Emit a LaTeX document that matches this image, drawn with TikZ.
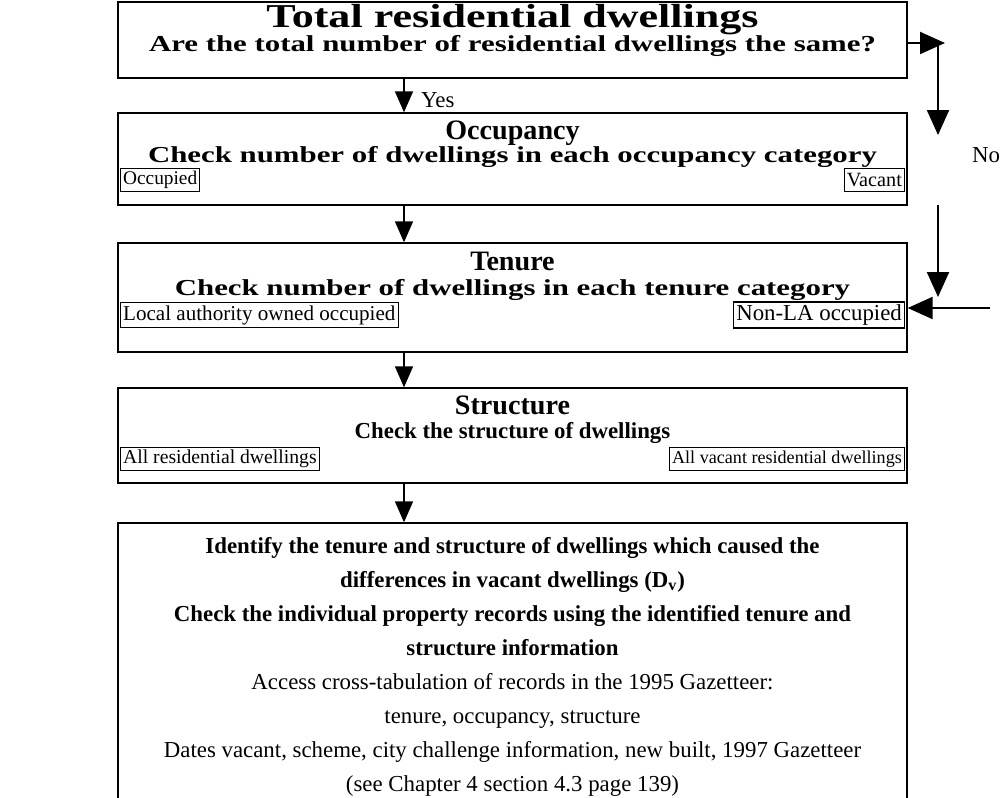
\documentclass[tikz,border=0pt]{standalone}
\usepackage{fontspec}
\setmainfont{Liberation Serif}
\newfontfamily\titlefont[FakeStretch=1.32]{Liberation Serif}
\newfontfamily\widefont[FakeStretch=1.35]{Liberation Serif}
\usetikzlibrary{arrows.meta}

\tikzset{
  stage/.style={draw, line width=0.8pt, rectangle, minimum width=15.78cm},
  title/.style={anchor=base, inner sep=0pt, font=\titlefont\fontsize{19}{22}\selectfont\bfseries},
  heading/.style={anchor=base, inner sep=0pt, font=\fontsize{16}{19}\selectfont\bfseries},
  question/.style={anchor=base, inner sep=0pt, font=\widefont\fontsize{13}{15}\selectfont\bfseries},
  plainq/.style={anchor=base, inner sep=0pt, font=\fontsize{13}{15}\selectfont\bfseries},
  category/.style={draw, line width=0.6pt, inner sep=1.5pt, minimum height=0.46cm},
  flow/.style={line width=1pt, -{Triangle[length=0.42cm, width=0.36cm]}},
  bigflow/.style={line width=1.2pt, -{Triangle[length=0.5cm, width=0.44cm]}},
}

\begin{document}
\begin{tikzpicture}
\useasboundingbox (0,0) rectangle (20,-15.96);
% the five stages
\node[stage, minimum height=1.52cm] (total) at (10.25,-0.8) {};
\node[stage, minimum height=1.84cm] (occupancy) at (10.25,-3.18) {};
\node[stage, minimum height=2.18cm] (tenure) at (10.25,-5.95) {};
\node[stage, minimum height=1.9cm] (structure) at (10.25,-8.71) {};
\node[stage, minimum height=5.8cm] (identify) at (10.25,-13.36) {};

\node[title] (totalhead) at (10.25,-0.55) {Total residential dwellings};
\node[question] (totalq) at (10.25,-1.03) {Are the total number of residential dwellings the same?};

\node[heading] (occhead) at (10.25,-2.78) {Occupancy};
\node[question] (occq) at (10.25,-3.24) {Check number of dwellings in each occupancy category};
\node[category, anchor=west, font=\fontsize{11}{13}\selectfont] (occupied) at (2.4,-3.6) {Occupied};
\node[category, anchor=east, font=\fontsize{11.5}{13}\selectfont] (vacant) at (18.1,-3.6) {Vacant};

\node[heading] (tenhead) at (10.25,-5.41) {Tenure};
\node[question] (tenq) at (10.25,-5.9) {Check number of dwellings in each tenure category};
\node[category, anchor=west, font=\fontsize{12}{14}\selectfont] (laowned) at (2.4,-6.3) {Local authority owned occupied};
\node[category, anchor=east, font=\fontsize{13}{15}\selectfont] (nonla) at (18.1,-6.3) {Non-LA occupied};

\node[heading] (strhead) at (10.25,-8.28) {Structure};
\node[plainq] (strq) at (10.25,-8.76) {Check the structure of dwellings};
\node[category, anchor=west, font=\fontsize{11.2}{13}\selectfont] (allres) at (2.4,-9.18) {All residential dwellings};
\node[category, anchor=east, font=\fontsize{10.3}{13}\selectfont] (allvac) at (18.1,-9.18) {All vacant residential dwellings};

\node[align=center, font=\fontsize{13}{19.35}\selectfont] (idtext) at (10.25,-13.34) {%
\textbf{Identify the tenure and structure of dwellings which caused the}\\
\textbf{differences in vacant dwellings (D\textsubscript{v})}\\
\textbf{Check the individual property records using the identified tenure and}\\
\textbf{structure information}\\
Access cross-tabulation of records in the 1995 Gazetteer:\\
tenure, occupancy, structure\\
Dates vacant, scheme, city challenge information, new built, 1997 Gazetteer\\
(see Chapter 4 section 4.3 page 139)};

% yes path
\coordinate (spine) at (8.08,0);
\draw[flow] (total.south -| spine) -- (occupancy.north -| spine);
\node[font=\fontsize{13}{15}\selectfont, anchor=west] (yes) at (8.3,-2.0) {Yes};
\draw[flow] (occupancy.south -| spine) -- (tenure.north -| spine);
\draw[flow] (tenure.south -| spine) -- (structure.north -| spine);
\draw[flow] (structure.south -| spine) -- (identify.north -| spine);

% no path
\coordinate (noturn) at (18.9,-0.86);
\coordinate (nodrop) at (18.76,-0.86);
\coordinate (noupper) at (18.76,-2.7);
\coordinate (nolow) at (18.76,-4.1);
\coordinate (nolowend) at (18.76,-5.94);
\coordinate (noback) at (19.8,-6.16);
\draw[bigflow] (total.east |- noturn) -- (noturn);
\draw[bigflow] (nodrop) -- (noupper);
\node[font=\fontsize{13}{15}\selectfont] (no) at (19.72,-3.1) {No};
\draw[bigflow] (nolow) -- (nolowend);
\draw[bigflow] (noback) -- (tenure.east |- noback);
\end{tikzpicture}
\end{document}
